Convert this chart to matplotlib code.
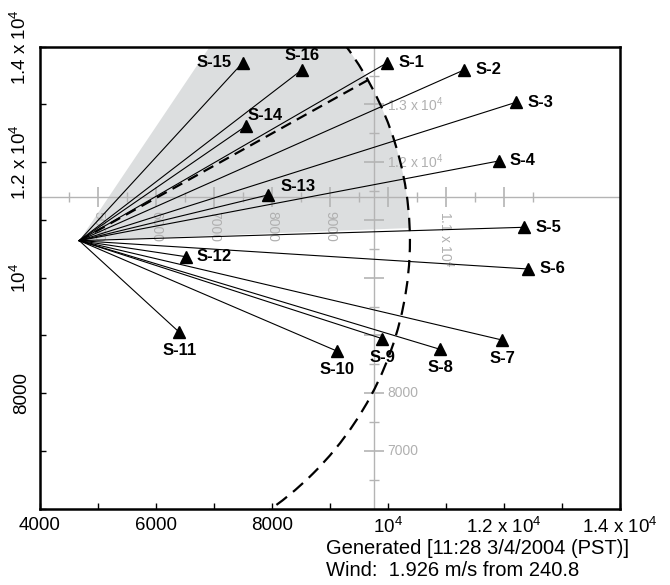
import numpy as np
import matplotlib.pyplot as plt
from matplotlib.patches import Wedge, Circle

plt.rcParams['font.family'] = ['Liberation Sans', 'DejaVu Sans']
plt.rcParams['mathtext.fontset'] = 'custom'
plt.rcParams['mathtext.rm'] = 'Liberation Sans'
plt.rcParams['mathtext.it'] = 'Liberation Sans:italic'
plt.rcParams['mathtext.bf'] = 'Liberation Sans:bold'

# source point and stations
src_x, src_y = 4678, 10641
stations = ['S-1', 'S-2', 'S-3', 'S-4', 'S-5', 'S-6', 'S-7', 'S-8',
            'S-9', 'S-10', 'S-11', 'S-12', 'S-13', 'S-14', 'S-15', 'S-16']
sx = [9988, 11310, 12207, 11909, 12345, 12414, 11966, 10897,
      9902, 9116, 6402, 6512, 7926, 7552, 7495, 8512]
sy = [13723, 13597, 13037, 12021, 10873, 10151, 8921, 8760,
      8944, 8731, 9055, 10364, 11432, 12627, 13723, 13597]
# where the label sits relative to the marker
label_pos = ['r', 'r', 'r', 'r', 'r', 'r', 'b', 'b',
             'b', 'b', 'b', 'r', 'ur', 'ur', 'l', 'u']

wind_speed = 1.926
wind_from = 240.8
half_angle = 27.0
plume_r = 5700

# grey crosshair (local grid)
cross_x, cross_y = 9750, 11390
hticks = np.arange(4500, 13000, 500)
hlabels = {5000: '5000', 6000: '6000', 7000: '7000', 8000: '8000',
           9000: '9000', 11000: r'1.1 x 10$^4$'}
vticks = np.arange(6500, 14000, 500)
vlabels = {13000: r'1.3 x 10$^4$', 12000: r'1.2 x 10$^4$',
           8000: '8000', 7000: '7000'}

xt = [4000, 6000, 8000, 10000, 12000, 14000]
xtl = ['4000', '6000', '8000', r'10$^4$', r'1.2 x 10$^4$', r'1.4 x 10$^4$']
yt = [8000, 10000, 12000, 14000]
ytl = ['8000', r'10$^4$', r'1.2 x 10$^4$', r'1.4 x 10$^4$']

grey = '#b4b4b4'
grey_txt = '#b0b0b0'

fig = plt.figure(figsize=(6.7, 5.85), dpi=100)
ax = fig.add_axes([0.0597, 0.1304, 0.8657, 0.7898])
ax.set_xlim(4000, 14000)
ax.set_ylim(6000, 14000)

# plume direction (wind blows toward from+180)
theta = 90 - (wind_from - 180)
ax.add_patch(Wedge((src_x, src_y), plume_r, theta - half_angle, theta + half_angle,
                   facecolor='#dcdedf', edgecolor='none', zorder=0))

# grey crosshair with its ticks
ax.axhline(cross_y, color=grey, lw=1.0, zorder=1)
ax.axvline(cross_x, color=grey, lw=1.0, zorder=1)
major_h = hticks[hticks % 1000 == 0]
minor_h = hticks[hticks % 1000 != 0]
ax.plot(major_h, np.full(len(major_h), cross_y), ls='none', marker='|', ms=15,
        mew=1.2, color=grey, zorder=1)
ax.plot(minor_h, np.full(len(minor_h), cross_y), ls='none', marker='|', ms=7,
        mew=1.0, color=grey, zorder=1)
major_v = vticks[vticks % 1000 == 0]
minor_v = vticks[vticks % 1000 != 0]
ax.plot(np.full(len(major_v), cross_x), major_v, ls='none', marker='_', ms=15,
        mew=1.2, color=grey, zorder=1)
ax.plot(np.full(len(minor_v), cross_x), minor_v, ls='none', marker='_', ms=7,
        mew=1.0, color=grey, zorder=1)
for v, s in hlabels.items():
    ax.annotate(s, (v, cross_y), xytext=(0, -10), textcoords='offset points',
                rotation=-90, ha='center', va='top', fontsize=10,
                color=grey_txt, zorder=1)
for v, s in vlabels.items():
    ax.annotate(s, (cross_x, v), xytext=(10, 0), textcoords='offset points',
                ha='left', va='center', fontsize=10, color=grey_txt, zorder=1)

# station rays
for x, y in zip(sx, sy):
    ax.plot([src_x, x], [src_y, y], color='black', lw=0.8, zorder=2)

# plume centre line and range circle
t = np.radians(theta)
ax.plot([src_x, src_x + plume_r * np.cos(t)], [src_y, src_y + plume_r * np.sin(t)],
        color='black', lw=1.6, ls=(0, (5, 3)), zorder=3)
ax.add_patch(Circle((src_x, src_y), plume_r, fill=False, edgecolor='black',
                    lw=1.6, ls=(0, (6, 3.5)), zorder=3))

ax.plot(sx, sy, ls='none', marker='^', ms=8, color='black', zorder=4)

offsets = {'r': ((8, 0), 'left', 'center'),
           'b': ((0, -8), 'center', 'top'),
           'ur': ((1, 2), 'left', 'bottom'),
           'l': ((-8, 0), 'right', 'center'),
           'u': ((0, 5), 'center', 'bottom')}
for name, x, y, p in zip(stations, sx, sy, label_pos):
    off, ha, va = offsets[p]
    if name == 'S-13':
        off = (9, 1)
    ax.annotate(name, (x, y), xytext=off, textcoords='offset points',
                ha=ha, va=va, fontsize=12, fontweight='bold', zorder=5)

ax.set_xticks(xt)
ax.set_xticklabels(xtl)
ax.set_xticks(np.arange(4000, 14001, 1000), minor=True)
ax.set_yticks(yt)
ax.set_yticklabels(ytl, rotation=90, va='center')
ax.set_yticks(np.arange(6000, 14001, 1000), minor=True)
ax.tick_params(which='both', direction='in', length=4, width=1.0,
               top=False, right=False, labelsize=13.5)
ax.tick_params(axis='x', pad=6)
ax.tick_params(axis='y', pad=7)
for sp in ax.spines.values():
    sp.set_linewidth(1.8)

fig.text(0.486, 0.0632, 'Generated [11:28 3/4/2004 (PST)]', fontsize=14.5,
         ha='left', va='center')
fig.text(0.486, 0.0256, 'Wind:  %.3f m/s from %.1f' % (wind_speed, wind_from),
         fontsize=14.5, ha='left', va='center')

fig.savefig('out.png', dpi=100)
